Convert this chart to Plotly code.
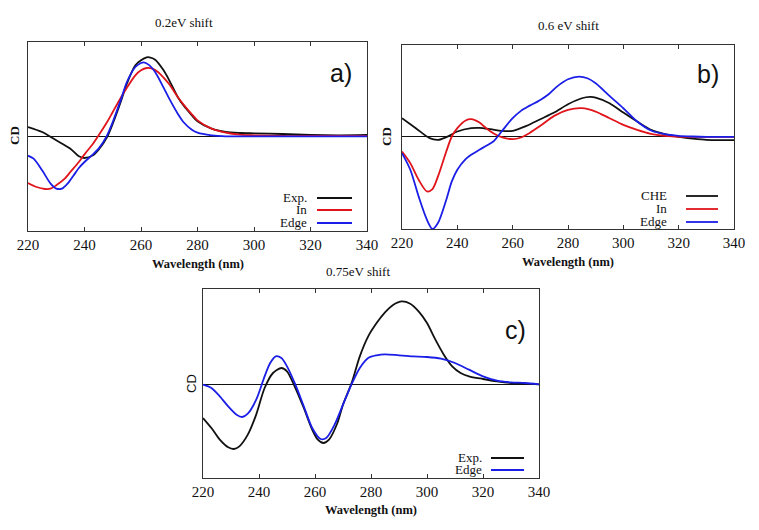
import plotly.graph_objects as go

# panel a) 0.2eV shift
wl_a_exp = [220, 225, 230, 235, 238, 240, 243, 245, 248, 250, 253, 255, 258, 260, 262, 263, 265, 268, 270,
            273, 275, 278, 280, 285, 290, 295, 300, 310, 320, 330, 340]
cd_a_exp = [0.28, 0.13, -0.12, -0.37, -0.60, -0.65, -0.57, -0.40, -0.02, 0.38, 1.08, 1.58, 2.13, 2.28, 2.37,
            2.37, 2.30, 1.98, 1.68, 1.18, 0.93, 0.63, 0.45, 0.23, 0.13, 0.10, 0.09, 0.07, 0.04, 0.03, 0.04]
wl_a_in = [220, 223, 226, 228, 230, 233, 235, 238, 240, 243, 245, 248, 250, 253, 255, 258, 260, 262, 264, 266,
           268, 270, 273, 275, 278, 280, 285, 290, 295, 300, 310, 320, 330, 340]
cd_a_in = [-1.40, -1.52, -1.58, -1.57, -1.47, -1.27, -1.07, -0.77, -0.54, -0.22, 0.03, 0.43, 0.73, 1.18, 1.46,
           1.83, 1.98, 2.05, 2.03, 1.93, 1.76, 1.56, 1.18, 0.96, 0.66, 0.48, 0.23, 0.11, 0.05, 0.03, 0.01, 0.01,
           0.01, 0.01]
wl_a_edge = [220, 222, 225, 228, 230, 232, 234, 236, 238, 240, 243, 245, 248, 250, 253, 255, 258, 260, 261, 263,
             265, 268, 270, 273, 275, 278, 280, 285, 290, 300, 320, 340]
cd_a_edge = [-0.58, -0.67, -1.02, -1.42, -1.57, -1.57, -1.42, -1.19, -0.95, -0.77, -0.54, -0.37, 0.03, 0.43,
             1.13, 1.63, 2.08, 2.20, 2.22, 2.13, 1.93, 1.46, 1.13, 0.68, 0.43, 0.20, 0.11, 0.03, 0.0, 0.0, 0.0, 0.0]

# panel b) 0.6 eV shift
wl_b_che = [220, 225, 230, 233, 236, 240, 245, 248, 252, 256, 260, 265, 270, 275, 280, 285, 288, 290, 295, 300,
            305, 310, 315, 320, 325, 330, 335, 340]
cd_b_che = [0.56, 0.26, -0.04, -0.09, -0.01, 0.16, 0.26, 0.27, 0.23, 0.18, 0.18, 0.33, 0.53, 0.73, 0.98, 1.16,
            1.20, 1.18, 1.01, 0.73, 0.46, 0.21, 0.08, 0.00, -0.05, -0.09, -0.10, -0.10]
wl_b_in = [220, 223, 226, 229, 231, 233, 236, 238, 240, 243, 245, 248, 250, 253, 256, 260, 263, 266, 270, 275,
           280, 285, 290, 295, 300, 305, 310, 315, 320, 330, 340]
cd_b_in = [-0.44, -0.79, -1.29, -1.64, -1.57, -1.19, -0.44, 0.01, 0.26, 0.49, 0.53, 0.43, 0.29, 0.11, -0.01,
           -0.07, -0.02, 0.11, 0.33, 0.63, 0.81, 0.86, 0.76, 0.56, 0.36, 0.21, 0.09, 0.03, 0.0, 0.0, 0.0]
wl_b_edge = [220, 223, 226, 229, 231, 233, 236, 238, 240, 243, 245, 248, 250, 253, 256, 260, 263, 266, 270, 273,
             276, 280, 284, 287, 290, 295, 300, 305, 310, 315, 320, 325, 330, 340]
cd_b_edge = [-0.49, -0.99, -1.79, -2.49, -2.77, -2.59, -1.89, -1.34, -0.99, -0.67, -0.54, -0.39, -0.29, -0.14,
             0.16, 0.56, 0.78, 0.93, 1.11, 1.28, 1.51, 1.73, 1.81, 1.76, 1.61, 1.23, 0.86, 0.46, 0.19, 0.08, 0.03,
             0.01, 0.0, 0.0]

# panel c) 0.75eV shift
wl_c_exp = [220, 223, 226, 229, 231, 233, 236, 239, 242, 245, 248, 250, 253, 256, 259, 261, 263, 265, 268, 270,
            273, 276, 279, 282, 285, 288, 291, 294, 297, 300, 303, 306, 309, 312, 315, 320, 325, 330, 335, 340]
cd_c_exp = [-1.02, -1.32, -1.67, -1.90, -1.95, -1.87, -1.52, -0.92, -0.12, 0.33, 0.48, 0.38, -0.12, -0.72,
            -1.37, -1.67, -1.77, -1.67, -1.17, -0.62, 0.01, 0.83, 1.43, 1.83, 2.15, 2.38, 2.48, 2.41, 2.18, 1.83,
            1.33, 0.88, 0.53, 0.33, 0.23, 0.15, 0.08, 0.03, 0.01, -0.01]
wl_c_edge = [220, 223, 226, 229, 232, 234, 236, 239, 242, 244, 246, 248, 250, 253, 256, 259, 262, 264, 267, 270,
             273, 276, 279, 282, 285, 290, 295, 300, 305, 310, 315, 320, 325, 330, 335, 340]
cd_c_edge = [-0.02, -0.12, -0.37, -0.67, -0.92, -0.99, -0.89, -0.47, 0.23, 0.63, 0.83, 0.78, 0.53, -0.02, -0.67,
             -1.32, -1.65, -1.62, -1.22, -0.62, -0.02, 0.48, 0.78, 0.86, 0.89, 0.86, 0.83, 0.81, 0.76, 0.63, 0.43,
             0.23, 0.10, 0.05, 0.03, -0.01]

x_ticks = [220, 240, 260, 280, 300, 320, 340]

BLACK = "#111111"
RED = "#e0141b"
BLUE = "#1a1ee6"
SERIF = "Liberation Serif"
SANS = "Liberation Sans"

W, H = 759, 530


def px_x(v):
    return v / W


def px_y(v):
    return 1 - v / H


fig = go.Figure()

panels = [
    # suffix, box (left, right, top, bottom) in px, y range, series
    ("", (28, 367, 42, 231), [-2.84, 2.83],
     [("Exp.", wl_a_exp, cd_a_exp, BLACK), ("In", wl_a_in, cd_a_in, RED), ("Edge", wl_a_edge, cd_a_edge, BLUE)]),
    ("2", (402, 734, 45, 229), [-2.77, 2.76],
     [("CHE", wl_b_che, cd_b_che, BLACK), ("In", wl_b_in, cd_b_in, RED), ("Edge", wl_b_edge, cd_b_edge, BLUE)]),
    ("3", (203, 539, 289, 478), [-2.82, 2.85],
     [("Exp.", wl_c_exp, cd_c_exp, BLACK), ("Edge", wl_c_edge, cd_c_edge, BLUE)]),
]

for suf, box, yr, series in panels:
    l, r, t, b = box
    for name, xs, ys, col in series:
        fig.add_trace(go.Scatter(x=xs, y=ys, mode="lines", name=name,
                                 line=dict(color=col, width=1.8, shape="spline", smoothing=0.8),
                                 xaxis="x" + suf, yaxis="y" + suf, showlegend=False))
    fig.layout["xaxis" + suf] = dict(
        domain=[px_x(l), px_x(r)], range=[220, 340], anchor="y" + suf, automargin=False,
        tickvals=x_ticks, ticks="inside", ticklen=4, tickcolor="#333", mirror="ticks",
        showline=True, linecolor="#333", linewidth=1, showgrid=False, zeroline=False,
        tickfont=dict(family=SERIF, size=15, color="#111"))
    fig.layout["yaxis" + suf] = dict(
        domain=[px_y(b), px_y(t)], range=yr, anchor="x" + suf, automargin=False,
        showticklabels=False, ticks="", showline=True, mirror=True, linecolor="#333", linewidth=1,
        showgrid=False, zeroline=True, zerolinecolor="#111", zerolinewidth=1)

annotations = []
shapes = []


def text(x, y, s, size=13, family=SERIF, angle=0, xanchor="center"):
    annotations.append(dict(x=px_x(x), y=px_y(y), xref="paper", yref="paper", text=s, showarrow=False,
                            textangle=angle, xanchor=xanchor, yanchor="middle",
                            font=dict(family=family, size=size, color="#111")))


# titles
text(184, 23, "0.2eV shift", 13)
text(568, 26, "0.6 eV shift", 13)
text(358, 271, "0.75eV shift", 13)
# x labels
text(198, 264, "<b>Wavelength (nm)</b>", 12.5)
text(568, 262, "<b>Wavelength (nm)</b>", 12.5)
text(371, 510, "<b>Wavelength (nm)</b>", 12.5)
# y labels
text(15, 136, "<b>CD</b>", 13, angle=-90)
text(386, 137, "<b>CD</b>", 13, angle=-90)
text(191, 384, "CD", 13, family=SANS, angle=-90)
# panel tags
text(341, 73, "a)", 25, family=SANS)
text(708, 74, "b)", 25, family=SANS)
text(515, 330, "c)", 25, family=SANS)

# legends: label right-aligned, line sample to the right
legends = [
    (309, 317, 352, [("Exp.", 197, BLACK), ("In", 209, RED), ("Edge", 222, BLUE)]),
    (669, 686, 718, [("CHE", 195, BLACK), ("In", 208, RED), ("Edge", 221, BLUE)]),
    (484, 491, 524, [("Exp.", 457, BLACK), ("Edge", 469, BLUE)]),
]
for tx, x0, x1, items in legends:
    for name, y, col in items:
        text(tx, y, name, 13, xanchor="right")
        shapes.append(dict(type="line", xref="paper", yref="paper", x0=px_x(x0), x1=px_x(x1),
                           y0=px_y(y + 1), y1=px_y(y + 1), line=dict(color=col, width=1.8)))

fig.update_layout(width=W, height=H, margin=dict(l=0, r=0, t=0, b=0, autoexpand=False),
                  paper_bgcolor="white", plot_bgcolor="white",
                  annotations=annotations, shapes=shapes, showlegend=False)

fig.write_html("out.html", config={"displayModeBar": False},
               post_script="document.body.style.margin='0px';")
